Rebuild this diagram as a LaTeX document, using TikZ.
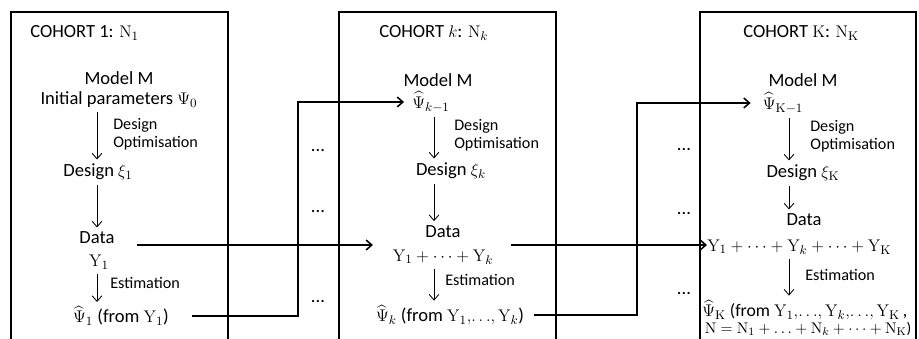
\documentclass[tikz,border=0pt]{standalone}
\usepackage{amsmath}
\usepackage[no-math]{fontspec}
\setmainfont{Carlito}
\usetikzlibrary{arrows.meta}

\begin{document}
\begin{tikzpicture}[x=0.025cm,y=0.025cm]
	\tikzstyle{every node}+=[inner sep=0pt,font=\fontsize{13.2}{17}\selectfont]
	\tikzstyle{lbl}=[anchor=west,align=left,font=\fontsize{11.5}{12.8}\selectfont]
	\tikzstyle{cohort}=[line width=1.9pt]
	\tikzstyle{flow}=[line width=0.6pt,shorten <=3pt,shorten >=3pt,-{Straight Barb[length=4pt,width=7pt]}]
	\tikzstyle{feed}=[line width=1.1pt,-{Straight Barb[length=4pt,width=7pt]}]
	\useasboundingbox (0,0) rectangle (919,-339);
	% the three cohort frames, open at the bottom
	\draw [cohort] (11,-339) |- (228,-12) -- (228,-339);
	\draw [cohort] (339,-339) |- (556,-12) -- (556,-339);
	\draw [cohort] (700,-339) |- (916,-12) -- (916,-339);
	\coordinate (col1) at (97,0);
	\coordinate (colk) at (434,0);
	\coordinate (colK) at (789,0);
	% cohort 1
	\node [anchor=west] (title1) at (30,-33) {COHORT 1: $\mathrm{N}_1$};
	\node (model1) at (119,-78) {Model M};
	\node (init1) at (119,-100) {Initial parameters $\Psi_0$};
	\node (design1) at (98,-172) {Design $\xi_1$};
	\node (data1) at (97,-238) {Data};
	\node (y1) at (99,-262) {$\mathrm{Y}_1$};
	\node (est1) at (121,-316) {$\widehat{\Psi}_1$ (from $\mathrm{Y}_1$)};
	\node [lbl] (opt1) at (113,-134) {Design\\Optimisation};
	\node [lbl] (estlbl1) at (110,-283) {Estimation};
	\draw [flow] (init1.south -| col1) -- (design1.north -| col1);
	\draw [flow] (design1.south -| col1) -- (data1.north -| col1);
	\draw [flow] (y1.south -| col1) -- (est1.north -| col1);
	% cohort k
	\node [anchor=west] (titlek) at (379,-33) {COHORT $k$: $\mathrm{N}_k$};
	\node (modelk) at (438,-80) {Model M};
	\node (psik) at (431,-102) {$\widehat{\Psi}_{k-1}$};
	\node (designk) at (451,-171) {Design $\xi_k$};
	\node [align=center] (datak) at (443,-245) {Data\\$\mathrm{Y}_1+\cdots+\mathrm{Y}_k$};
	\node (estk) at (450,-315) {$\widehat{\Psi}_k$ (from $\mathrm{Y}_1,\!\ldots\!,\mathrm{Y}_k$)};
	\node [lbl] (optk) at (454,-135) {Design\\Optimisation};
	\node [lbl] (estlblk) at (445,-280) {Estimation};
	\draw [flow] (psik.south -| colk) -- (designk.north -| colk);
	\draw [flow] (designk.south -| colk) -- (datak.north -| colk);
	\draw [flow] (datak.south -| colk) -- (estk.north -| colk);
	% cohort K
	\node [anchor=west] (titleK) at (743,-33) {COHORT $\mathrm{K}$: $\mathrm{N}_{\mathrm{K}}$};
	\node (modelK) at (803,-80) {Model M};
	\node (psiK) at (783,-103) {$\widehat{\Psi}_{\mathrm{K}-1}$};
	\node (designK) at (803,-173) {Design $\xi_{\mathrm{K}}$};
	\node (dataK) at (804,-220) {Data};
	\node [anchor=west] (sumK) at (707,-247) {$\mathrm{Y}_1+\cdots+\mathrm{Y}_k+\cdots+\mathrm{Y}_{\mathrm{K}}$};
	\node [anchor=west,align=left,font=\fontsize{12.6}{15}\selectfont] (estK) at (702,-318) {$\widehat{\Psi}_{\mathrm{K}}$ (from $\mathrm{Y}_1,\!\ldots\!,\mathrm{Y}_k,\!\ldots\!,\mathrm{Y}_{\mathrm{K}}$\,,\\[-3pt]{\fontsize{11}{13}\selectfont\,$\mathrm{N}=\mathrm{N}_1+\ldots+\mathrm{N}_k+\cdots+\mathrm{N}_{\mathrm{K}}$)}};
	\node [lbl] (optK) at (810,-136) {Design\\Optimisation};
	\node [lbl] (estlblK) at (805,-275) {Estimation};
	\draw [flow] (psiK.south -| colK) -- (designK.north -| colK);
	\draw [flow] (designK.south -| colK) -- (dataK.north -| colK);
	\draw [flow] (sumK.south -| colK) -- (estK.north -| colK);
	% gaps between cohorts
	\foreach \y in {151,212,302} \node (gapa\y) at (318,-\y) {...};
	\foreach \y in {150,214,294} \node (gapb\y) at (684,-\y) {...};
	% passing data and estimates on
	\coordinate (bend1) at (298,-200);
	\coordinate (bend2) at (637,-200);
	\draw [feed, shorten <=15.6pt, shorten >=14pt] (data1.east |- datak.west) -- (datak.west);
	\draw [feed, shorten <=16pt, shorten >=5.7pt] (est1.east) -| (bend1) |- (psik.west);
	\draw [feed, shorten <=12.8pt] (datak.east) -- (datak.east -| sumK.west);
	\draw [feed, shorten <=7pt, shorten >=8.5pt] (estk.east) -| (bend2) |- (psiK.west);
\end{tikzpicture}
\end{document}
